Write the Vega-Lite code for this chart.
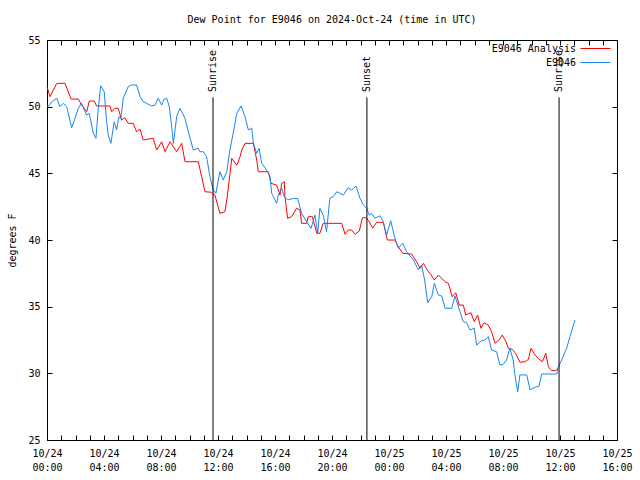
{
  "$schema": "https://vega.github.io/schema/vega-lite/v6.json",
  "width": 570,
  "height": 400,
  "autosize": "none",
  "padding": {"left": 47, "top": 40, "right": 23, "bottom": 40},
  "background": "white",
  "config": {
    "view": {"stroke": "black", "strokeWidth": 1},
    "font": "DejaVu Sans Mono",
    "axis": {
      "grid": false, "domainColor": "black", "domainWidth": 1, "tickColor": "black", "tickWidth": 1,
      "tickSize": -5, "labelColor": "black", "labelFont": "DejaVu Sans Mono", "labelFontSize": 10,
      "titleFont": "DejaVu Sans Mono", "titleFontSize": 10, "titleFontWeight": "normal", "titleColor": "black"
    }
  },
  "title": {
    "text": "Dew Point for E9046 on 2024-Oct-24 (time in UTC)",
    "font": "DejaVu Sans Mono", "fontSize": 10, "fontWeight": "normal", "color": "black",
    "anchor": "middle", "frame": "group", "offset": 10
  },
  "datasets": {
    "series": [
      {"t": "2024-10-24T00:00:00Z", "v": 51.5, "s": "E9046 Analysis"},
      {"t": "2024-10-24T00:13:00Z", "v": 50.75, "s": "E9046 Analysis"},
      {"t": "2024-10-24T00:41:00Z", "v": 51.75, "s": "E9046 Analysis"},
      {"t": "2024-10-24T01:16:00Z", "v": 51.75, "s": "E9046 Analysis"},
      {"t": "2024-10-24T01:41:00Z", "v": 50.57, "s": "E9046 Analysis"},
      {"t": "2024-10-24T02:12:00Z", "v": 50.57, "s": "E9046 Analysis"},
      {"t": "2024-10-24T02:26:00Z", "v": 50.12, "s": "E9046 Analysis"},
      {"t": "2024-10-24T02:47:00Z", "v": 49.62, "s": "E9046 Analysis"},
      {"t": "2024-10-24T02:58:00Z", "v": 50.42, "s": "E9046 Analysis"},
      {"t": "2024-10-24T03:19:00Z", "v": 50.42, "s": "E9046 Analysis"},
      {"t": "2024-10-24T03:29:00Z", "v": 50.05, "s": "E9046 Analysis"},
      {"t": "2024-10-24T04:25:00Z", "v": 50.05, "s": "E9046 Analysis"},
      {"t": "2024-10-24T04:32:00Z", "v": 49.62, "s": "E9046 Analysis"},
      {"t": "2024-10-24T04:46:00Z", "v": 49.88, "s": "E9046 Analysis"},
      {"t": "2024-10-24T05:00:00Z", "v": 49.88, "s": "E9046 Analysis"},
      {"t": "2024-10-24T05:14:00Z", "v": 49.0, "s": "E9046 Analysis"},
      {"t": "2024-10-24T05:28:00Z", "v": 49.17, "s": "E9046 Analysis"},
      {"t": "2024-10-24T05:42:00Z", "v": 48.75, "s": "E9046 Analysis"},
      {"t": "2024-10-24T06:03:00Z", "v": 48.75, "s": "E9046 Analysis"},
      {"t": "2024-10-24T06:17:00Z", "v": 48.12, "s": "E9046 Analysis"},
      {"t": "2024-10-24T06:32:00Z", "v": 48.32, "s": "E9046 Analysis"},
      {"t": "2024-10-24T06:45:00Z", "v": 47.5, "s": "E9046 Analysis"},
      {"t": "2024-10-24T07:27:00Z", "v": 47.63, "s": "E9046 Analysis"},
      {"t": "2024-10-24T07:42:00Z", "v": 46.75, "s": "E9046 Analysis"},
      {"t": "2024-10-24T08:03:00Z", "v": 47.37, "s": "E9046 Analysis"},
      {"t": "2024-10-24T08:17:00Z", "v": 46.62, "s": "E9046 Analysis"},
      {"t": "2024-10-24T08:38:00Z", "v": 47.37, "s": "E9046 Analysis"},
      {"t": "2024-10-24T09:06:00Z", "v": 46.62, "s": "E9046 Analysis"},
      {"t": "2024-10-24T09:27:00Z", "v": 47.25, "s": "E9046 Analysis"},
      {"t": "2024-10-24T09:41:00Z", "v": 45.87, "s": "E9046 Analysis"},
      {"t": "2024-10-24T10:37:00Z", "v": 45.87, "s": "E9046 Analysis"},
      {"t": "2024-10-24T10:51:00Z", "v": 44.75, "s": "E9046 Analysis"},
      {"t": "2024-10-24T11:05:00Z", "v": 43.62, "s": "E9046 Analysis"},
      {"t": "2024-10-24T11:33:00Z", "v": 43.58, "s": "E9046 Analysis"},
      {"t": "2024-10-24T11:47:00Z", "v": 43.37, "s": "E9046 Analysis"},
      {"t": "2024-10-24T12:08:00Z", "v": 42.0, "s": "E9046 Analysis"},
      {"t": "2024-10-24T12:29:00Z", "v": 42.12, "s": "E9046 Analysis"},
      {"t": "2024-10-24T12:39:00Z", "v": 43.25, "s": "E9046 Analysis"},
      {"t": "2024-10-24T12:58:00Z", "v": 46.13, "s": "E9046 Analysis"},
      {"t": "2024-10-24T13:19:00Z", "v": 45.6, "s": "E9046 Analysis"},
      {"t": "2024-10-24T13:33:00Z", "v": 46.25, "s": "E9046 Analysis"},
      {"t": "2024-10-24T13:40:00Z", "v": 46.75, "s": "E9046 Analysis"},
      {"t": "2024-10-24T13:54:00Z", "v": 47.25, "s": "E9046 Analysis"},
      {"t": "2024-10-24T14:29:00Z", "v": 47.25, "s": "E9046 Analysis"},
      {"t": "2024-10-24T14:43:00Z", "v": 46.0, "s": "E9046 Analysis"},
      {"t": "2024-10-24T14:50:00Z", "v": 45.12, "s": "E9046 Analysis"},
      {"t": "2024-10-24T15:32:00Z", "v": 45.12, "s": "E9046 Analysis"},
      {"t": "2024-10-24T15:43:00Z", "v": 44.25, "s": "E9046 Analysis"},
      {"t": "2024-10-24T16:07:00Z", "v": 44.12, "s": "E9046 Analysis"},
      {"t": "2024-10-24T16:21:00Z", "v": 43.37, "s": "E9046 Analysis"},
      {"t": "2024-10-24T16:28:00Z", "v": 44.25, "s": "E9046 Analysis"},
      {"t": "2024-10-24T16:39:00Z", "v": 44.37, "s": "E9046 Analysis"},
      {"t": "2024-10-24T16:42:00Z", "v": 43.25, "s": "E9046 Analysis"},
      {"t": "2024-10-24T16:53:00Z", "v": 41.63, "s": "E9046 Analysis"},
      {"t": "2024-10-24T17:10:00Z", "v": 41.75, "s": "E9046 Analysis"},
      {"t": "2024-10-24T17:31:00Z", "v": 42.38, "s": "E9046 Analysis"},
      {"t": "2024-10-24T17:45:00Z", "v": 42.25, "s": "E9046 Analysis"},
      {"t": "2024-10-24T17:52:00Z", "v": 41.25, "s": "E9046 Analysis"},
      {"t": "2024-10-24T18:13:00Z", "v": 41.25, "s": "E9046 Analysis"},
      {"t": "2024-10-24T18:20:00Z", "v": 41.75, "s": "E9046 Analysis"},
      {"t": "2024-10-24T18:37:00Z", "v": 41.75, "s": "E9046 Analysis"},
      {"t": "2024-10-24T18:56:00Z", "v": 40.5, "s": "E9046 Analysis"},
      {"t": "2024-10-24T19:09:00Z", "v": 40.5, "s": "E9046 Analysis"},
      {"t": "2024-10-24T19:23:00Z", "v": 41.25, "s": "E9046 Analysis"},
      {"t": "2024-10-24T20:41:00Z", "v": 41.25, "s": "E9046 Analysis"},
      {"t": "2024-10-24T20:55:00Z", "v": 40.43, "s": "E9046 Analysis"},
      {"t": "2024-10-24T21:08:00Z", "v": 40.75, "s": "E9046 Analysis"},
      {"t": "2024-10-24T21:23:00Z", "v": 40.75, "s": "E9046 Analysis"},
      {"t": "2024-10-24T21:37:00Z", "v": 40.43, "s": "E9046 Analysis"},
      {"t": "2024-10-24T21:55:00Z", "v": 40.67, "s": "E9046 Analysis"},
      {"t": "2024-10-24T22:08:00Z", "v": 41.67, "s": "E9046 Analysis"},
      {"t": "2024-10-24T22:23:00Z", "v": 41.67, "s": "E9046 Analysis"},
      {"t": "2024-10-24T22:37:00Z", "v": 41.37, "s": "E9046 Analysis"},
      {"t": "2024-10-24T22:51:00Z", "v": 40.88, "s": "E9046 Analysis"},
      {"t": "2024-10-24T23:08:00Z", "v": 41.33, "s": "E9046 Analysis"},
      {"t": "2024-10-24T23:36:00Z", "v": 41.33, "s": "E9046 Analysis"},
      {"t": "2024-10-24T23:53:00Z", "v": 40.0, "s": "E9046 Analysis"},
      {"t": "2024-10-25T00:25:00Z", "v": 40.0, "s": "E9046 Analysis"},
      {"t": "2024-10-25T00:39:00Z", "v": 39.5, "s": "E9046 Analysis"},
      {"t": "2024-10-25T00:58:00Z", "v": 39.0, "s": "E9046 Analysis"},
      {"t": "2024-10-25T01:35:00Z", "v": 38.95, "s": "E9046 Analysis"},
      {"t": "2024-10-25T01:56:00Z", "v": 38.37, "s": "E9046 Analysis"},
      {"t": "2024-10-25T02:11:00Z", "v": 37.88, "s": "E9046 Analysis"},
      {"t": "2024-10-25T02:25:00Z", "v": 38.25, "s": "E9046 Analysis"},
      {"t": "2024-10-25T02:45:00Z", "v": 37.62, "s": "E9046 Analysis"},
      {"t": "2024-10-25T02:53:00Z", "v": 37.5, "s": "E9046 Analysis"},
      {"t": "2024-10-25T03:11:00Z", "v": 37.0, "s": "E9046 Analysis"},
      {"t": "2024-10-25T03:28:00Z", "v": 37.37, "s": "E9046 Analysis"},
      {"t": "2024-10-25T03:56:00Z", "v": 36.87, "s": "E9046 Analysis"},
      {"t": "2024-10-25T04:10:00Z", "v": 36.75, "s": "E9046 Analysis"},
      {"t": "2024-10-25T04:26:00Z", "v": 35.75, "s": "E9046 Analysis"},
      {"t": "2024-10-25T04:41:00Z", "v": 36.05, "s": "E9046 Analysis"},
      {"t": "2024-10-25T04:49:00Z", "v": 35.55, "s": "E9046 Analysis"},
      {"t": "2024-10-25T04:55:00Z", "v": 35.12, "s": "E9046 Analysis"},
      {"t": "2024-10-25T05:13:00Z", "v": 35.12, "s": "E9046 Analysis"},
      {"t": "2024-10-25T05:23:00Z", "v": 34.37, "s": "E9046 Analysis"},
      {"t": "2024-10-25T05:45:00Z", "v": 34.55, "s": "E9046 Analysis"},
      {"t": "2024-10-25T05:59:00Z", "v": 33.87, "s": "E9046 Analysis"},
      {"t": "2024-10-25T06:13:00Z", "v": 34.37, "s": "E9046 Analysis"},
      {"t": "2024-10-25T06:27:00Z", "v": 33.38, "s": "E9046 Analysis"},
      {"t": "2024-10-25T06:41:00Z", "v": 33.8, "s": "E9046 Analysis"},
      {"t": "2024-10-25T06:58:00Z", "v": 33.62, "s": "E9046 Analysis"},
      {"t": "2024-10-25T07:12:00Z", "v": 33.12, "s": "E9046 Analysis"},
      {"t": "2024-10-25T07:26:00Z", "v": 32.25, "s": "E9046 Analysis"},
      {"t": "2024-10-25T07:43:00Z", "v": 32.5, "s": "E9046 Analysis"},
      {"t": "2024-10-25T07:57:00Z", "v": 32.87, "s": "E9046 Analysis"},
      {"t": "2024-10-25T08:13:00Z", "v": 32.37, "s": "E9046 Analysis"},
      {"t": "2024-10-25T08:22:00Z", "v": 31.88, "s": "E9046 Analysis"},
      {"t": "2024-10-25T08:39:00Z", "v": 31.8, "s": "E9046 Analysis"},
      {"t": "2024-10-25T08:53:00Z", "v": 31.5, "s": "E9046 Analysis"},
      {"t": "2024-10-25T09:11:00Z", "v": 30.83, "s": "E9046 Analysis"},
      {"t": "2024-10-25T09:33:00Z", "v": 30.87, "s": "E9046 Analysis"},
      {"t": "2024-10-25T09:47:00Z", "v": 31.05, "s": "E9046 Analysis"},
      {"t": "2024-10-25T09:58:00Z", "v": 31.88, "s": "E9046 Analysis"},
      {"t": "2024-10-25T10:15:00Z", "v": 31.37, "s": "E9046 Analysis"},
      {"t": "2024-10-25T10:32:00Z", "v": 31.05, "s": "E9046 Analysis"},
      {"t": "2024-10-25T10:46:00Z", "v": 30.87, "s": "E9046 Analysis"},
      {"t": "2024-10-25T11:00:00Z", "v": 31.5, "s": "E9046 Analysis"},
      {"t": "2024-10-25T11:11:00Z", "v": 30.5, "s": "E9046 Analysis"},
      {"t": "2024-10-25T11:25:00Z", "v": 30.2, "s": "E9046 Analysis"},
      {"t": "2024-10-25T11:42:00Z", "v": 30.2, "s": "E9046 Analysis"},
      {"t": "2024-10-25T11:50:00Z", "v": 30.38, "s": "E9046 Analysis"},
      {"t": "2024-10-24T00:00:00Z", "v": 50.12, "s": "E9046"},
      {"t": "2024-10-24T00:05:00Z", "v": 50.0, "s": "E9046"},
      {"t": "2024-10-24T00:20:00Z", "v": 50.37, "s": "E9046"},
      {"t": "2024-10-24T00:41:00Z", "v": 50.63, "s": "E9046"},
      {"t": "2024-10-24T00:55:00Z", "v": 50.0, "s": "E9046"},
      {"t": "2024-10-24T01:09:00Z", "v": 50.25, "s": "E9046"},
      {"t": "2024-10-24T01:23:00Z", "v": 50.0, "s": "E9046"},
      {"t": "2024-10-24T01:44:00Z", "v": 48.42, "s": "E9046"},
      {"t": "2024-10-24T01:58:00Z", "v": 49.13, "s": "E9046"},
      {"t": "2024-10-24T02:12:00Z", "v": 49.88, "s": "E9046"},
      {"t": "2024-10-24T02:26:00Z", "v": 50.25, "s": "E9046"},
      {"t": "2024-10-24T02:37:00Z", "v": 49.75, "s": "E9046"},
      {"t": "2024-10-24T02:47:00Z", "v": 49.37, "s": "E9046"},
      {"t": "2024-10-24T02:58:00Z", "v": 49.5, "s": "E9046"},
      {"t": "2024-10-24T03:15:00Z", "v": 48.0, "s": "E9046"},
      {"t": "2024-10-24T03:26:00Z", "v": 47.63, "s": "E9046"},
      {"t": "2024-10-24T03:36:00Z", "v": 49.88, "s": "E9046"},
      {"t": "2024-10-24T03:46:00Z", "v": 51.57, "s": "E9046"},
      {"t": "2024-10-24T04:01:00Z", "v": 51.12, "s": "E9046"},
      {"t": "2024-10-24T04:11:00Z", "v": 48.87, "s": "E9046"},
      {"t": "2024-10-24T04:18:00Z", "v": 47.87, "s": "E9046"},
      {"t": "2024-10-24T04:29:00Z", "v": 47.25, "s": "E9046"},
      {"t": "2024-10-24T04:43:00Z", "v": 48.87, "s": "E9046"},
      {"t": "2024-10-24T04:53:00Z", "v": 48.25, "s": "E9046"},
      {"t": "2024-10-24T05:03:00Z", "v": 49.25, "s": "E9046"},
      {"t": "2024-10-24T05:11:00Z", "v": 49.13, "s": "E9046"},
      {"t": "2024-10-24T05:21:00Z", "v": 50.63, "s": "E9046"},
      {"t": "2024-10-24T05:42:00Z", "v": 51.5, "s": "E9046"},
      {"t": "2024-10-24T05:56:00Z", "v": 51.63, "s": "E9046"},
      {"t": "2024-10-24T06:17:00Z", "v": 51.63, "s": "E9046"},
      {"t": "2024-10-24T06:32:00Z", "v": 50.75, "s": "E9046"},
      {"t": "2024-10-24T06:45:00Z", "v": 50.37, "s": "E9046"},
      {"t": "2024-10-24T06:59:00Z", "v": 50.25, "s": "E9046"},
      {"t": "2024-10-24T07:21:00Z", "v": 50.05, "s": "E9046"},
      {"t": "2024-10-24T07:35:00Z", "v": 50.12, "s": "E9046"},
      {"t": "2024-10-24T07:48:00Z", "v": 50.63, "s": "E9046"},
      {"t": "2024-10-24T08:03:00Z", "v": 50.12, "s": "E9046"},
      {"t": "2024-10-24T08:12:00Z", "v": 50.55, "s": "E9046"},
      {"t": "2024-10-24T08:24:00Z", "v": 50.63, "s": "E9046"},
      {"t": "2024-10-24T08:35:00Z", "v": 50.0, "s": "E9046"},
      {"t": "2024-10-24T08:45:00Z", "v": 48.5, "s": "E9046"},
      {"t": "2024-10-24T08:52:00Z", "v": 47.25, "s": "E9046"},
      {"t": "2024-10-24T09:06:00Z", "v": 49.25, "s": "E9046"},
      {"t": "2024-10-24T09:20:00Z", "v": 49.88, "s": "E9046"},
      {"t": "2024-10-24T09:41:00Z", "v": 49.13, "s": "E9046"},
      {"t": "2024-10-24T09:55:00Z", "v": 48.12, "s": "E9046"},
      {"t": "2024-10-24T10:16:00Z", "v": 46.75, "s": "E9046"},
      {"t": "2024-10-24T10:37:00Z", "v": 46.88, "s": "E9046"},
      {"t": "2024-10-24T10:44:00Z", "v": 46.62, "s": "E9046"},
      {"t": "2024-10-24T10:58:00Z", "v": 46.62, "s": "E9046"},
      {"t": "2024-10-24T11:12:00Z", "v": 46.25, "s": "E9046"},
      {"t": "2024-10-24T11:26:00Z", "v": 44.75, "s": "E9046"},
      {"t": "2024-10-24T11:40:00Z", "v": 43.75, "s": "E9046"},
      {"t": "2024-10-24T11:51:00Z", "v": 43.5, "s": "E9046"},
      {"t": "2024-10-24T12:08:00Z", "v": 45.12, "s": "E9046"},
      {"t": "2024-10-24T12:22:00Z", "v": 44.5, "s": "E9046"},
      {"t": "2024-10-24T12:37:00Z", "v": 45.12, "s": "E9046"},
      {"t": "2024-10-24T12:50:00Z", "v": 46.75, "s": "E9046"},
      {"t": "2024-10-24T13:04:00Z", "v": 48.0, "s": "E9046"},
      {"t": "2024-10-24T13:19:00Z", "v": 49.5, "s": "E9046"},
      {"t": "2024-10-24T13:37:00Z", "v": 50.05, "s": "E9046"},
      {"t": "2024-10-24T13:54:00Z", "v": 49.25, "s": "E9046"},
      {"t": "2024-10-24T14:08:00Z", "v": 48.25, "s": "E9046"},
      {"t": "2024-10-24T14:22:00Z", "v": 48.38, "s": "E9046"},
      {"t": "2024-10-24T14:29:00Z", "v": 47.25, "s": "E9046"},
      {"t": "2024-10-24T14:36:00Z", "v": 46.88, "s": "E9046"},
      {"t": "2024-10-24T14:43:00Z", "v": 46.5, "s": "E9046"},
      {"t": "2024-10-24T14:53:00Z", "v": 46.88, "s": "E9046"},
      {"t": "2024-10-24T15:04:00Z", "v": 45.75, "s": "E9046"},
      {"t": "2024-10-24T15:25:00Z", "v": 45.25, "s": "E9046"},
      {"t": "2024-10-24T15:39:00Z", "v": 44.75, "s": "E9046"},
      {"t": "2024-10-24T15:46:00Z", "v": 43.5, "s": "E9046"},
      {"t": "2024-10-24T16:07:00Z", "v": 42.75, "s": "E9046"},
      {"t": "2024-10-24T16:14:00Z", "v": 43.37, "s": "E9046"},
      {"t": "2024-10-24T16:28:00Z", "v": 43.88, "s": "E9046"},
      {"t": "2024-10-24T16:39:00Z", "v": 43.25, "s": "E9046"},
      {"t": "2024-10-24T16:53:00Z", "v": 43.0, "s": "E9046"},
      {"t": "2024-10-24T17:17:00Z", "v": 43.12, "s": "E9046"},
      {"t": "2024-10-24T17:35:00Z", "v": 43.12, "s": "E9046"},
      {"t": "2024-10-24T17:52:00Z", "v": 42.0, "s": "E9046"},
      {"t": "2024-10-24T18:13:00Z", "v": 41.37, "s": "E9046"},
      {"t": "2024-10-24T18:32:00Z", "v": 40.88, "s": "E9046"},
      {"t": "2024-10-24T18:48:00Z", "v": 41.87, "s": "E9046"},
      {"t": "2024-10-24T19:00:00Z", "v": 40.5, "s": "E9046"},
      {"t": "2024-10-24T19:09:00Z", "v": 42.38, "s": "E9046"},
      {"t": "2024-10-24T19:23:00Z", "v": 41.87, "s": "E9046"},
      {"t": "2024-10-24T19:37:00Z", "v": 40.62, "s": "E9046"},
      {"t": "2024-10-24T19:51:00Z", "v": 43.13, "s": "E9046"},
      {"t": "2024-10-24T20:05:00Z", "v": 43.25, "s": "E9046"},
      {"t": "2024-10-24T20:20:00Z", "v": 43.62, "s": "E9046"},
      {"t": "2024-10-24T20:48:00Z", "v": 43.37, "s": "E9046"},
      {"t": "2024-10-24T21:08:00Z", "v": 43.92, "s": "E9046"},
      {"t": "2024-10-24T21:23:00Z", "v": 43.75, "s": "E9046"},
      {"t": "2024-10-24T21:41:00Z", "v": 44.05, "s": "E9046"},
      {"t": "2024-10-24T21:58:00Z", "v": 43.12, "s": "E9046"},
      {"t": "2024-10-24T22:12:00Z", "v": 42.63, "s": "E9046"},
      {"t": "2024-10-24T22:26:00Z", "v": 42.38, "s": "E9046"},
      {"t": "2024-10-24T22:37:00Z", "v": 41.87, "s": "E9046"},
      {"t": "2024-10-24T22:47:00Z", "v": 42.0, "s": "E9046"},
      {"t": "2024-10-24T23:01:00Z", "v": 41.63, "s": "E9046"},
      {"t": "2024-10-24T23:22:00Z", "v": 41.82, "s": "E9046"},
      {"t": "2024-10-24T23:36:00Z", "v": 41.37, "s": "E9046"},
      {"t": "2024-10-24T23:50:00Z", "v": 40.37, "s": "E9046"},
      {"t": "2024-10-25T00:07:00Z", "v": 41.45, "s": "E9046"},
      {"t": "2024-10-25T00:25:00Z", "v": 40.13, "s": "E9046"},
      {"t": "2024-10-25T00:39:00Z", "v": 39.38, "s": "E9046"},
      {"t": "2024-10-25T00:58:00Z", "v": 39.75, "s": "E9046"},
      {"t": "2024-10-25T01:14:00Z", "v": 39.12, "s": "E9046"},
      {"t": "2024-10-25T01:43:00Z", "v": 38.5, "s": "E9046"},
      {"t": "2024-10-25T02:04:00Z", "v": 37.75, "s": "E9046"},
      {"t": "2024-10-25T02:17:00Z", "v": 38.12, "s": "E9046"},
      {"t": "2024-10-25T02:30:00Z", "v": 37.0, "s": "E9046"},
      {"t": "2024-10-25T02:43:00Z", "v": 35.3, "s": "E9046"},
      {"t": "2024-10-25T03:00:00Z", "v": 35.75, "s": "E9046"},
      {"t": "2024-10-25T03:11:00Z", "v": 36.75, "s": "E9046"},
      {"t": "2024-10-25T03:28:00Z", "v": 35.87, "s": "E9046"},
      {"t": "2024-10-25T03:42:00Z", "v": 35.8, "s": "E9046"},
      {"t": "2024-10-25T03:56:00Z", "v": 34.88, "s": "E9046"},
      {"t": "2024-10-25T04:24:00Z", "v": 34.88, "s": "E9046"},
      {"t": "2024-10-25T04:38:00Z", "v": 35.8, "s": "E9046"},
      {"t": "2024-10-25T04:59:00Z", "v": 34.62, "s": "E9046"},
      {"t": "2024-10-25T05:13:00Z", "v": 33.87, "s": "E9046"},
      {"t": "2024-10-25T05:27:00Z", "v": 33.8, "s": "E9046"},
      {"t": "2024-10-25T05:41:00Z", "v": 33.25, "s": "E9046"},
      {"t": "2024-10-25T05:59:00Z", "v": 33.38, "s": "E9046"},
      {"t": "2024-10-25T06:09:00Z", "v": 32.12, "s": "E9046"},
      {"t": "2024-10-25T06:30:00Z", "v": 32.45, "s": "E9046"},
      {"t": "2024-10-25T06:44:00Z", "v": 32.5, "s": "E9046"},
      {"t": "2024-10-25T06:58:00Z", "v": 32.75, "s": "E9046"},
      {"t": "2024-10-25T07:12:00Z", "v": 31.75, "s": "E9046"},
      {"t": "2024-10-25T07:33:00Z", "v": 31.62, "s": "E9046"},
      {"t": "2024-10-25T07:47:00Z", "v": 30.62, "s": "E9046"},
      {"t": "2024-10-25T08:01:00Z", "v": 30.68, "s": "E9046"},
      {"t": "2024-10-25T08:15:00Z", "v": 31.0, "s": "E9046"},
      {"t": "2024-10-25T08:29:00Z", "v": 31.88, "s": "E9046"},
      {"t": "2024-10-25T08:43:00Z", "v": 31.0, "s": "E9046"},
      {"t": "2024-10-25T08:50:00Z", "v": 29.88, "s": "E9046"},
      {"t": "2024-10-25T09:02:00Z", "v": 28.62, "s": "E9046"},
      {"t": "2024-10-25T09:11:00Z", "v": 29.88, "s": "E9046"},
      {"t": "2024-10-25T09:40:00Z", "v": 29.88, "s": "E9046"},
      {"t": "2024-10-25T09:54:00Z", "v": 28.75, "s": "E9046"},
      {"t": "2024-10-25T10:15:00Z", "v": 28.95, "s": "E9046"},
      {"t": "2024-10-25T10:32:00Z", "v": 29.05, "s": "E9046"},
      {"t": "2024-10-25T10:43:00Z", "v": 29.95, "s": "E9046"},
      {"t": "2024-10-25T11:46:00Z", "v": 29.95, "s": "E9046"},
      {"t": "2024-10-25T11:53:00Z", "v": 30.5, "s": "E9046"},
      {"t": "2024-10-25T12:07:00Z", "v": 31.0, "s": "E9046"},
      {"t": "2024-10-25T12:28:00Z", "v": 31.88, "s": "E9046"},
      {"t": "2024-10-25T12:42:00Z", "v": 32.75, "s": "E9046"},
      {"t": "2024-10-25T13:03:00Z", "v": 34.0, "s": "E9046"}
    ],
    "events": [
      {"t": "2024-10-24T11:39:00Z", "label": "Sunrise"},
      {"t": "2024-10-24T22:27:00Z", "label": "Sunset"},
      {"t": "2024-10-25T11:56:00Z", "label": "Sunrise"}
    ]
  },
  "layer": [
    {
      "data": {"name": "series"},
      "mark": {"type": "line", "strokeWidth": 1},
      "encoding": {
        "x": {
          "field": "t", "type": "temporal",
          "scale": {"type": "utc", "domain": [1729728000000, 1729872000000]},
          "axis": {
            "orient": "bottom", "title": null,
            "values": [1729728000000, 1729731600000, 1729735200000, 1729738800000, 1729742400000, 1729746000000, 1729749600000, 1729753200000, 1729756800000, 1729760400000, 1729764000000, 1729767600000, 1729771200000, 1729774800000, 1729778400000, 1729782000000, 1729785600000, 1729789200000, 1729792800000, 1729796400000, 1729800000000, 1729803600000, 1729807200000, 1729810800000, 1729814400000, 1729818000000, 1729821600000, 1729825200000, 1729828800000, 1729832400000, 1729836000000, 1729839600000, 1729843200000, 1729846800000, 1729850400000, 1729854000000, 1729857600000, 1729861200000, 1729864800000, 1729868400000, 1729872000000],
            "labelExpr": "utchours(datum.value) % 4 == 0 ? [utcFormat(datum.value, '%m/%d'), utcFormat(datum.value, '%H:%M')] : ''",
            "labelOverlap": false, "labelFlush": false, "labelBaseline": "top", "labelLineHeight": 14, "labelPadding": 13
          }
        },
        "y": {
          "field": "v", "type": "quantitative",
          "scale": {"domain": [25, 55], "nice": false, "zero": false},
          "axis": {"values": [25, 30, 35, 40, 45, 50, 55], "title": "degrees F", "labelPadding": 12, "titlePadding": 10}
        },
        "color": {
          "field": "s", "type": "nominal",
          "scale": {"domain": ["E9046 Analysis", "E9046"], "range": ["#ff0000", "#1a85f0"]},
          "legend": {
            "title": null, "orient": "none", "legendX": 543, "legendY": 3, "padding": 0,
            "symbolType": "M-3,0H3", "symbolSize": 100, "symbolStrokeWidth": 1,
            "labelAlign": "right", "labelOffset": -25, "labelFont": "DejaVu Sans Mono", "labelFontSize": 10,
            "labelColor": "black", "rowPadding": 3
          }
        }
      }
    },
    {
      "data": {"name": "events"},
      "mark": {"type": "rule", "color": "black", "strokeWidth": 1},
      "encoding": {
        "x": {
          "field": "t", "type": "temporal",
          "scale": {"type": "utc", "domain": [1729728000000, 1729872000000]},
          "axis": {
            "orient": "top", "title": null, "labels": false,
            "values": [1729728000000, 1729731600000, 1729735200000, 1729738800000, 1729742400000, 1729746000000, 1729749600000, 1729753200000, 1729756800000, 1729760400000, 1729764000000, 1729767600000, 1729771200000, 1729774800000, 1729778400000, 1729782000000, 1729785600000, 1729789200000, 1729792800000, 1729796400000, 1729800000000, 1729803600000, 1729807200000, 1729810800000, 1729814400000, 1729818000000, 1729821600000, 1729825200000, 1729828800000, 1729832400000, 1729836000000, 1729839600000, 1729843200000, 1729846800000, 1729850400000, 1729854000000, 1729857600000, 1729861200000, 1729864800000, 1729868400000, 1729872000000]
          }
        },
        "y": {
          "datum": 50.7, "type": "quantitative",
          "scale": {"domain": [25, 55], "nice": false, "zero": false},
          "axis": {"orient": "right", "title": null, "labels": false, "values": [25, 30, 35, 40, 45, 50, 55]}
        },
        "y2": {"datum": 25}
      }
    },
    {
      "data": {"name": "events"},
      "mark": {"type": "text", "angle": 270, "align": "left", "baseline": "middle", "font": "DejaVu Sans Mono", "fontSize": 10, "color": "black"},
      "encoding": {
        "x": {"field": "t", "type": "temporal", "axis": null},
        "y": {"datum": 51.1, "type": "quantitative", "axis": null},
        "text": {"field": "label"}
      }
    }
  ],
  "resolve": {"axis": {"x": "independent", "y": "independent"}}
}
